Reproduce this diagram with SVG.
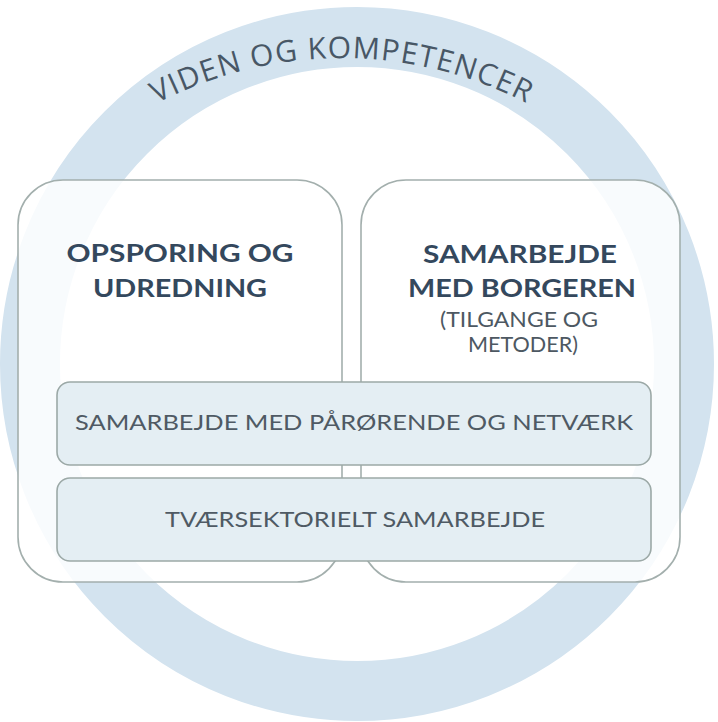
<svg xmlns="http://www.w3.org/2000/svg" width="718" height="722" viewBox="0 0 718 722">
  <defs>
    <style>
      .ring { fill: none; stroke: #d3e3ef; stroke-width: 60; }
      .box { fill: #ffffff; fill-opacity: 0.84; stroke: #a3afad; stroke-width: 1.6; }
      .bar { fill: #e4eef3; stroke: #9ca9a7; stroke-width: 1.6; }
      .title { font-family: Lato, "Open Sans", "Liberation Sans", sans-serif; font-weight: 700; font-size: 25px; fill: #34485d; text-anchor: middle; }
      .sub { font-family: Lato, "Open Sans", "Liberation Sans", sans-serif; font-weight: 400; font-size: 21px; fill: #4d5862; text-anchor: middle; }
      .bartext { font-family: Lato, "Open Sans", "Liberation Sans", sans-serif; font-weight: 400; font-size: 22px; fill: #4f5a64; text-anchor: middle; }
      .arc { font-family: "Open Sans", "Liberation Sans", sans-serif; font-size: 30px; fill: #485766; letter-spacing: 1.2px; }
    </style>
    <path id="arcPath" d="M -58 458 A 400 400 0 0 1 742 458"/>
  </defs>

  <rect width="718" height="722" fill="#ffffff"/>

  <g id="ring">
    <circle class="ring" cx="357" cy="364" r="327"/>
    <text class="arc"><textPath href="#arcPath" startOffset="50%" text-anchor="middle">VIDEN OG KOMPETENCER</textPath></text>
  </g>

  <g id="box-left">
    <rect class="box" x="18" y="180" width="324" height="402" rx="45" ry="45"/>
    <text class="title" x="180" y="262" textLength="227" lengthAdjust="spacingAndGlyphs">OPSPORING OG</text>
    <text class="title" x="180" y="297" textLength="174" lengthAdjust="spacingAndGlyphs">UDREDNING</text>
  </g>

  <g id="box-right">
    <rect class="box" x="361" y="180" width="319" height="402" rx="45" ry="45"/>
    <text class="title" x="520" y="263" textLength="194" lengthAdjust="spacingAndGlyphs">SAMARBEJDE</text>
    <text class="title" x="522" y="297" textLength="228" lengthAdjust="spacingAndGlyphs">MED BORGEREN</text>
    <text class="sub" x="519" y="327" textLength="158" lengthAdjust="spacingAndGlyphs">(TILGANGE OG</text>
    <text class="sub" x="523" y="352" textLength="110" lengthAdjust="spacingAndGlyphs">METODER)</text>
  </g>

  <g id="bar-1">
    <rect class="bar" x="57" y="382" width="594" height="83" rx="13" ry="13"/>
    <text class="bartext" x="354" y="430" textLength="558" lengthAdjust="spacingAndGlyphs">SAMARBEJDE MED PÅRØRENDE OG NETVÆRK</text>
  </g>

  <g id="bar-2">
    <rect class="bar" x="57" y="478" width="594" height="83" rx="13" ry="13"/>
    <text class="bartext" x="355" y="527" textLength="380" lengthAdjust="spacingAndGlyphs">TVÆRSEKTORIELT SAMARBEJDE</text>
  </g>

  <g id="connectors"/>
</svg>
